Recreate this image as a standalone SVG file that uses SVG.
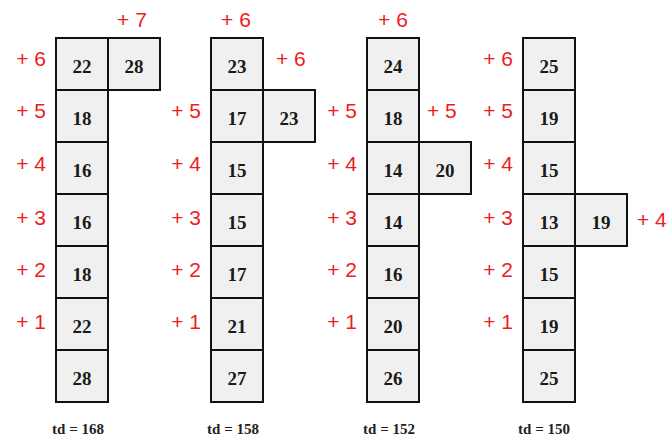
<svg xmlns="http://www.w3.org/2000/svg" width="669" height="439" viewBox="0 0 669 439">
<style>
.c{fill:#f0f0f0;stroke:#111;stroke-width:2}
.n{font-family:"Liberation Serif",serif;font-weight:bold;font-size:19px;fill:#1a1a1a;text-anchor:middle}
.r{font-family:"Liberation Sans",sans-serif;font-size:21px;fill:#ee1c1c}
.e{text-anchor:end}
.m{text-anchor:middle}
.td{font-family:"Liberation Serif",serif;font-weight:bold;font-size:15px;fill:#222;text-anchor:middle}
</style>
<rect width="669" height="439" fill="#fff"/>
<g id="col1">
<g id="c1r0"><rect class="c" x="56" y="38" width="52" height="52"/><text class="n" x="82" y="73">22</text></g>
<g id="c1r1"><rect class="c" x="56" y="90" width="52" height="52"/><text class="n" x="82" y="125">18</text></g>
<g id="c1r2"><rect class="c" x="56" y="142" width="52" height="52"/><text class="n" x="82" y="177">16</text></g>
<g id="c1r3"><rect class="c" x="56" y="194" width="52" height="52"/><text class="n" x="82" y="229">16</text></g>
<g id="c1r4"><rect class="c" x="56" y="246" width="52" height="52"/><text class="n" x="82" y="281">18</text></g>
<g id="c1r5"><rect class="c" x="56" y="298" width="52" height="52"/><text class="n" x="82" y="333">22</text></g>
<g id="c1r6"><rect class="c" x="56" y="350" width="52" height="52"/><text class="n" x="82" y="385">28</text></g>
<g id="c1x"><rect class="c" x="108" y="38" width="52" height="52"/><text class="n" x="134" y="73">28</text></g>
<text class="r m" x="132" y="27">+ 7</text>
<text class="r e" x="46" y="66">+ 6</text>
<text class="r e" x="46" y="118">+ 5</text>
<text class="r e" x="46" y="171">+ 4</text>
<text class="r e" x="46" y="225">+ 3</text>
<text class="r e" x="46" y="277">+ 2</text>
<text class="r e" x="46" y="329">+ 1</text>
<text class="td" x="78" y="434">td = 168</text>
</g>
<g id="col2">
<g id="c2r0"><rect class="c" x="211" y="38" width="52" height="52"/><text class="n" x="237" y="73">23</text></g>
<g id="c2r1"><rect class="c" x="211" y="90" width="52" height="52"/><text class="n" x="237" y="125">17</text></g>
<g id="c2r2"><rect class="c" x="211" y="142" width="52" height="52"/><text class="n" x="237" y="177">15</text></g>
<g id="c2r3"><rect class="c" x="211" y="194" width="52" height="52"/><text class="n" x="237" y="229">15</text></g>
<g id="c2r4"><rect class="c" x="211" y="246" width="52" height="52"/><text class="n" x="237" y="281">17</text></g>
<g id="c2r5"><rect class="c" x="211" y="298" width="52" height="52"/><text class="n" x="237" y="333">21</text></g>
<g id="c2r6"><rect class="c" x="211" y="350" width="52" height="52"/><text class="n" x="237" y="385">27</text></g>
<g id="c2x"><rect class="c" x="263" y="90" width="52" height="52"/><text class="n" x="289" y="125">23</text></g>
<text class="r m" x="236" y="27">+ 6</text>
<text class="r" x="276" y="66">+ 6</text>
<text class="r e" x="201" y="118">+ 5</text>
<text class="r e" x="201" y="171">+ 4</text>
<text class="r e" x="201" y="225">+ 3</text>
<text class="r e" x="201" y="277">+ 2</text>
<text class="r e" x="201" y="329">+ 1</text>
<text class="td" x="233" y="434">td = 158</text>
</g>
<g id="col3">
<g id="c3r0"><rect class="c" x="367" y="38" width="52" height="52"/><text class="n" x="393" y="73">24</text></g>
<g id="c3r1"><rect class="c" x="367" y="90" width="52" height="52"/><text class="n" x="393" y="125">18</text></g>
<g id="c3r2"><rect class="c" x="367" y="142" width="52" height="52"/><text class="n" x="393" y="177">14</text></g>
<g id="c3r3"><rect class="c" x="367" y="194" width="52" height="52"/><text class="n" x="393" y="229">14</text></g>
<g id="c3r4"><rect class="c" x="367" y="246" width="52" height="52"/><text class="n" x="393" y="281">16</text></g>
<g id="c3r5"><rect class="c" x="367" y="298" width="52" height="52"/><text class="n" x="393" y="333">20</text></g>
<g id="c3r6"><rect class="c" x="367" y="350" width="52" height="52"/><text class="n" x="393" y="385">26</text></g>
<g id="c3x"><rect class="c" x="419" y="142" width="52" height="52"/><text class="n" x="445" y="177">20</text></g>
<text class="r m" x="393" y="27">+ 6</text>
<text class="r" x="427" y="118">+ 5</text>
<text class="r e" x="357" y="118">+ 5</text>
<text class="r e" x="357" y="171">+ 4</text>
<text class="r e" x="357" y="225">+ 3</text>
<text class="r e" x="357" y="277">+ 2</text>
<text class="r e" x="357" y="329">+ 1</text>
<text class="td" x="389" y="434">td = 152</text>
</g>
<g id="col4">
<g id="c4r0"><rect class="c" x="523" y="38" width="52" height="52"/><text class="n" x="549" y="73">25</text></g>
<g id="c4r1"><rect class="c" x="523" y="90" width="52" height="52"/><text class="n" x="549" y="125">19</text></g>
<g id="c4r2"><rect class="c" x="523" y="142" width="52" height="52"/><text class="n" x="549" y="177">15</text></g>
<g id="c4r3"><rect class="c" x="523" y="194" width="52" height="52"/><text class="n" x="549" y="229">13</text></g>
<g id="c4r4"><rect class="c" x="523" y="246" width="52" height="52"/><text class="n" x="549" y="281">15</text></g>
<g id="c4r5"><rect class="c" x="523" y="298" width="52" height="52"/><text class="n" x="549" y="333">19</text></g>
<g id="c4r6"><rect class="c" x="523" y="350" width="52" height="52"/><text class="n" x="549" y="385">25</text></g>
<g id="c4x"><rect class="c" x="575" y="194" width="52" height="52"/><text class="n" x="601" y="229">19</text></g>
<text class="r" x="637" y="227">+ 4</text>
<text class="r e" x="513" y="66">+ 6</text>
<text class="r e" x="513" y="118">+ 5</text>
<text class="r e" x="513" y="171">+ 4</text>
<text class="r e" x="513" y="225">+ 3</text>
<text class="r e" x="513" y="277">+ 2</text>
<text class="r e" x="513" y="329">+ 1</text>
<text class="td" x="544" y="434">td = 150</text>
</g>
</svg>
